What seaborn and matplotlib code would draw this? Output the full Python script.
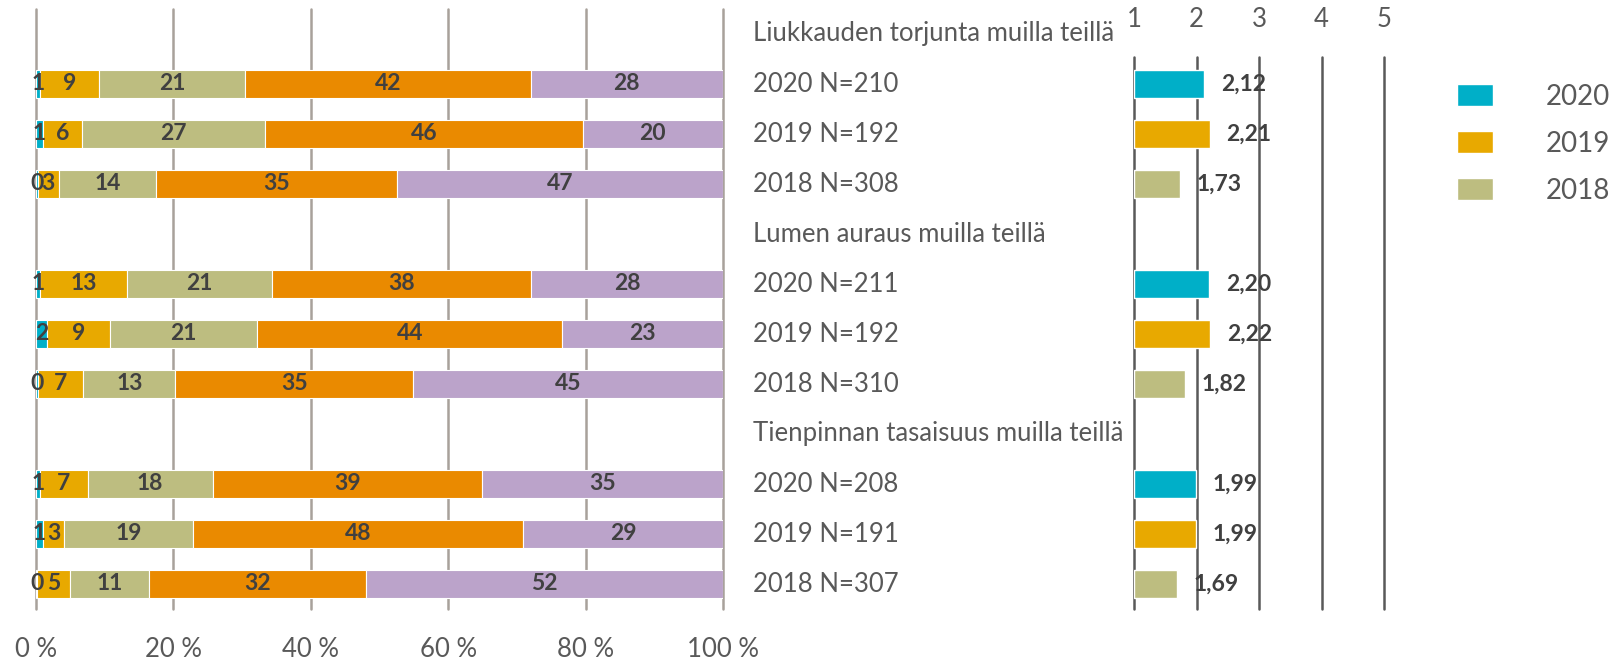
import matplotlib
matplotlib.use('Agg')
import matplotlib.pyplot as plt
import matplotlib.transforms as mtransforms
from matplotlib.patches import Patch
import pandas as pd
import seaborn as sns

# --- data ---
groups = ['Liukkauden torjunta muilla teillä',
          'Lumen auraus muilla teillä',
          'Tienpinnan tasaisuus muilla teillä']
years = ['2020', '2019', '2018']
sample_sizes = [210, 192, 308, 211, 192, 310, 208, 191, 307]

# shares (%) of answers 1..5, rows: group1 2020/2019/2018, group2 ..., group3 ...
share_1 = [0.6, 1.0, 0.3, 0.6, 1.6, 0.3, 0.6, 1.0, 0.2]
share_2 = [8.6, 5.7, 3.0, 12.6, 9.2, 6.6, 6.9, 3.1, 4.8]
share_3 = [21.2, 26.6, 14.2, 21.2, 21.4, 13.4, 18.2, 18.8, 11.4]
share_4 = [41.6, 46.3, 35.1, 37.7, 44.4, 34.6, 39.2, 48.0, 31.7]
share_5 = [28.0, 20.4, 47.4, 27.9, 23.4, 45.1, 35.1, 29.1, 51.9]

# mean score (scale 1..5)
means = [2.12, 2.21, 1.73, 2.20, 2.22, 1.82, 1.99, 1.99, 1.69]

share_colors = ['#00AFC8', '#E8A900', '#BDBD80', '#EA8A00', '#BBA3CA']
year_colors = {'2020': '#00AFC8', '2019': '#E8A900', '2018': '#BDBD80'}

# one row per year, a header row before each group
rows = []
for g, name in enumerate(groups):
    for i, yr in enumerate(years):
        rows.append({'group': name, 'year': yr, 'pos': 4 * g + 1 + i})
df = pd.DataFrame(rows)
df['n'] = sample_sizes
df['mean'] = means
shares = [share_1, share_2, share_3, share_4, share_5]
for k, s in enumerate(shares):
    df['s%d' % (k + 1)] = s
header_pos = [4 * g for g in range(len(groups))]

sns.set_theme(style='white')
plt.rcParams['font.family'] = ['Lato', 'DejaVu Sans']

W, H = 1617, 661
fig = plt.figure(figsize=(W / 100, H / 100), dpi=100)
ax = fig.add_axes([36 / W, 1 - 609 / H, 687 / W, 600 / H])
ax2 = fig.add_axes([1134 / W, 1 - 609 / H, 250 / W, 552 / H])

text_gray = '#595959'
label_dark = '#404040'

# left: 100 % stacked bars
left = pd.Series(0.0, index=df.index)
for k in range(5):
    vals = df['s%d' % (k + 1)]
    ax.barh(df['pos'], vals, left=left, height=0.56, color=share_colors[k],
            edgecolor='white', linewidth=0.8, zorder=2)
    for p, v, l in zip(df['pos'], vals, left):
        ax.text(l + v / 2, p, '%.0f' % v, ha='center', va='center',
                fontsize=16.5, fontweight='bold', color=label_dark, zorder=3)
    left = left + vals

ax.set_xlim(0, 100)
ax.set_ylim(11.5, -0.5)
ax.set_xticks([0, 20, 40, 60, 80, 100])
ax.set_xticklabels(['%d %%' % t for t in [0, 20, 40, 60, 80, 100]])
ax.set_yticks([])
ax.tick_params(axis='x', length=0, pad=20, labelsize=18.5, labelcolor=text_gray)
ax.grid(axis='x', color='#A8A19B', linewidth=1.8, zorder=0)
ax.grid(axis='y', visible=False)
for line in ax.get_xgridlines():
    line.set_clip_on(False)
for sp in ax.spines.values():
    sp.set_visible(False)

# middle labels
trans = mtransforms.blended_transform_factory(ax.transAxes, ax.transData)
for p, name in zip(header_pos, groups):
    ax.text(1.0437, p, name, transform=trans, ha='left', va='center',
            fontsize=18.5, color=text_gray, clip_on=False)
for p, yr, n in zip(df['pos'], df['year'], df['n']):
    ax.text(1.0437, p, '%s N=%d' % (yr, n), transform=trans, ha='left',
            va='center', fontsize=18.5, color=text_gray, clip_on=False)

# right: mean scores
ax2.barh(df['pos'], df['mean'] - 1, left=1, height=0.56,
         color=[year_colors[y] for y in df['year']], zorder=2)
for p, m in zip(df['pos'], df['mean']):
    ax2.annotate(('%.2f' % m).replace('.', ','), (m, p), xytext=(12, 0),
                 textcoords='offset points', ha='left', va='center',
                 fontsize=16.5, fontweight='bold', color=label_dark, zorder=3)
ax2.set_xlim(1, 5)
ax2.set_ylim(11.5, 0.46)
ax2.xaxis.tick_top()
ax2.set_xticks([1, 2, 3, 4, 5])
ax2.set_xticklabels(['1', '2', '3', '4', '5'])
ax2.set_yticks([])
ax2.tick_params(axis='x', length=0, pad=18, labelsize=18.5, labelcolor=text_gray)
ax2.grid(axis='x', color='#595959', linewidth=1.8, zorder=0)
ax2.grid(axis='y', visible=False)
for line in ax2.get_xgridlines():
    line.set_clip_on(False)
for sp in ax2.spines.values():
    sp.set_visible(False)

# legend
handles = [Patch(facecolor=year_colors[y]) for y in years]
fig.legend(handles, years, loc='upper left', bbox_to_anchor=(1457 / W, 1 - 84 / H),
           frameon=False, fontsize=20, handlelength=1.3, handleheight=0.83,
           handletextpad=1.9, labelspacing=0.75, borderpad=0, borderaxespad=0,
           labelcolor=text_gray)

fig.savefig('out.png', dpi=100)
